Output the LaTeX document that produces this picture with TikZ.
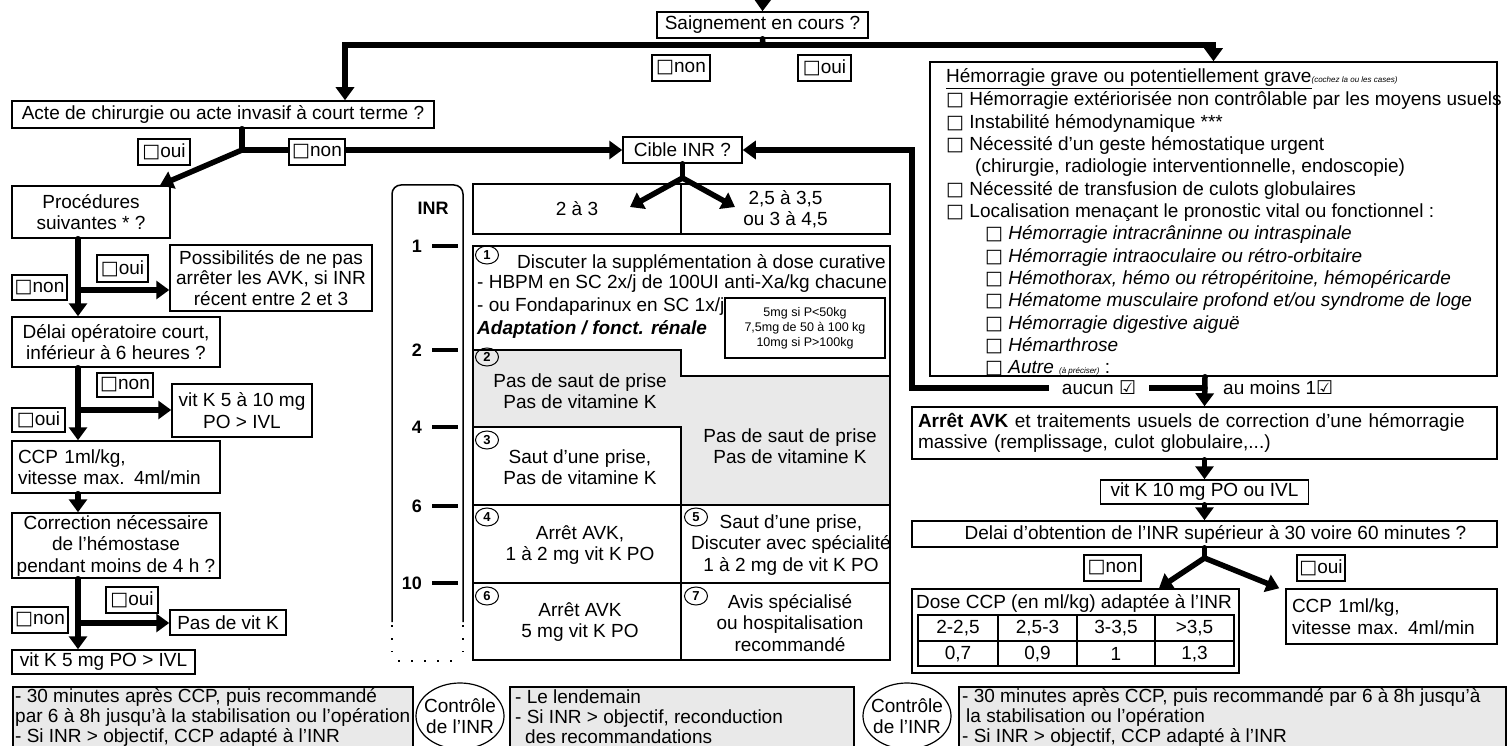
\documentclass[tikz,border=0pt]{standalone}
\usepackage{fontspec}
\setmainfont{Liberation Sans}
\newfontfamily\dejavu{DejaVu Sans}
\usetikzlibrary{arrows.meta,calc,shapes.geometric}
\newcommand{\cbx}{{\dejavu □}}
\begin{document}
\begin{tikzpicture}[x=1pt,y=-1pt,
  font=\fontsize{19}{21.5}\selectfont,
  box/.style={draw,line width=1.5pt,fill=white,inner sep=1.5pt,align=center},
  lbl/.style={draw,line width=1.3pt,fill=white,inner sep=1.5pt},
  gbox/.style={draw,line width=1.5pt,fill=gray!17,anchor=north west,minimum height=64},
  conn/.style={line width=5.5pt,line cap=round},
  arr/.style={line width=5.5pt,line cap=round,-{Triangle[width=18pt,length=13pt]}},
  tline/.style={line width=1.5pt},
  num/.style={draw,ellipse,line width=1pt,inner sep=0pt,minimum width=23,minimum height=18,font=\fontsize{13}{13}\selectfont\bfseries},
  rulertick/.style={line width=4pt},
  boldnum/.style={font=\fontsize{18}{20}\selectfont\bfseries},
  ctext/.style={align=center,inner sep=0pt},
  btext/.style={anchor=west,align=left,inner sep=0pt,font=\fontsize{19}{20}\selectfont}
]
\useasboundingbox (0,0) rectangle (1510,746);
\fill[white] (0,0) rectangle (1510,746);

% ---------- top ----------
\node[box,minimum width=211,minimum height=26] (sai) at (762.5,25) {Saignement en cours ?};
\coordinate (topin) at (763,-14);
\draw[arr] (topin) -- (sai.north);

% ---------- left column boxes ----------
\node[box,minimum width=422,minimum height=27] (acte) at (223,114.5) {Acte de chirurgie ou acte invasif à court terme ?};
\node[box,minimum width=158,minimum height=52] (proc) at (91,212) {Procédures\\suivantes * ?};
\node[box,minimum width=202,minimum height=66,font=\fontsize{19}{20.5}\selectfont] (poss) at (271,278) {Possibilités de ne pas\\arrêter les AVK, si INR\\récent entre 2 et 3};
\node[box,minimum width=208,minimum height=50] (delai) at (116,342) {Délai opératoire court,\\inférieur à 6 heures ?};
\node[box,minimum width=140,minimum height=53] (vk510) at (242,410.5) {vit K 5 à 10 mg\\PO > IVL};
\node[box,minimum width=208,minimum height=52,text width=196,align=left,inner xsep=6pt] (ccp1) at (116,467) {CCP 1ml/kg,\\vitesse max. 4ml/min};
\node[box,minimum width=208,minimum height=65,inner sep=0.5pt] (corr) at (116,545.5) {Correction nécessaire\\de l'hémostase\\pendant moins de 4 h ?};
\node[box,minimum width=116,minimum height=25] (pvk) at (228,622.5) {Pas de vit K};
\node[box,minimum width=183,minimum height=24] (vk5) at (103.5,662) {vit K 5 mg PO > IVL};

% ---------- middle boxes ----------
\node[box,minimum width=119,minimum height=26] (cible) at (682.5,150) {Cible INR ?};
\node[box,minimum width=208,minimum height=50] (hA) at (577,209) {2 à 3};
\node[box,minimum width=209,minimum height=50] (hB) at (785.5,209) {2,5 à 3,5\\ou 3 à 4,5};

% ---------- right boxes ----------
\node[box,minimum width=567,minimum height=314] (hem) at (1213.5,219) {};
\node[box,minimum width=585,minimum height=52,text width=573,align=left,inner xsep=6pt] (arret) at (1204.5,433) {\textbf{Arrêt AVK} et traitements usuels de correction d'une hémorragie\\massive (remplissage, culot globulaire,...)};
\node[box,minimum width=208,minimum height=24] (vk10) at (1204.5,492) {vit K 10 mg PO ou IVL};
\node[box,minimum width=585,minimum height=26] (delai2) at (1204.5,534) {\hspace*{22pt}Delai d'obtention de l'INR supérieur à 30 voire 60 minutes ?};
\node[box,minimum width=327,minimum height=84] (dose) at (1075.5,631) {};
\node[box,minimum width=211,minimum height=55,text width=199,align=left,inner xsep=6pt] (ccp2) at (1391.5,616.5) {CCP 1ml/kg,\\vitesse max. 4ml/min};

% ---------- connectors: top ----------
\coordinate (jS) at (763,45);
\draw[conn] (sai.south) -- (jS);
\draw[arr] (jS) -| ([xshift=122]acte.north);
\draw[arr] (jS) -| (hem.north);

% ---------- connectors: left ----------
\coordinate (jA) at (242,150);
\draw[conn] ([xshift=19]acte.south) -- (jA);
\draw[arr] (jA) -- (cible.west);
\draw[arr] (jA) -- ([xshift=69]proc.north);
\draw[arr] ([xshift=-13]proc.south) -- ([xshift=-38]delai.north);
\coordinate (j2) at (78,290);
\draw[arr] (j2) -- (j2 -| poss.west);
\draw[arr] ([xshift=-38]delai.south) -- ([xshift=-38]ccp1.north);
\coordinate (j3) at (78,410);
\draw[arr] (j3) -- (j3 -| vk510.west);
\draw[arr] ([xshift=-38]ccp1.south) -- ([xshift=-38]corr.north);
\draw[arr] ([xshift=-38]corr.south) -- ([xshift=-25.5]vk5.north);
\coordinate (j4) at (78,623);
\draw[arr] (j4) -- (j4 -| pvk.west);

% ---------- connectors: middle ----------
\coordinate (jC) at (682.5,178);
\coordinate (tL) at (630,207);
\coordinate (tR) at (735,207);
\draw[conn] (cible.south) -- (jC);
\draw[arr] (jC) -- (tL);
\draw[arr] (jC) -- (tR);

% ---------- connectors: right ----------
\coordinate (jH) at (1205,388);
\coordinate (kH) at (912,388);
\draw[arr] ([xshift=-8.5]hem.south) -- (arret.north);
\draw[arr] (jH) -- (kH) |- (cible.east);
\draw[arr] (arret.south) -- (vk10.north);
\draw[arr] (vk10.south) -- (delai2.north);
\coordinate (jD) at (1204.5,558);
\draw[conn] (delai2.south) -- (jD);
\draw[arr] (jD) -- ([xshift=83.5]dose.north);
\draw[arr] (jD) -- ([xshift=-6]ccp2.north west);

% ---------- labels ----------
\node[lbl,minimum width=58,minimum height=26] (n0) at (681,68) {\cbx non};
\node[lbl,minimum width=53,minimum height=26] (o0) at (824.5,68) {\cbx oui};
\node[lbl,minimum width=52,minimum height=26] (o1) at (164,152) {\cbx oui};
\node[lbl,minimum width=56,minimum height=26] (n1) at (317,152) {\cbx non};
\node[lbl,minimum width=51,minimum height=27] (o2) at (122.5,268.5) {\cbx oui};
\node[lbl,minimum width=55,minimum height=25] (n2) at (39.5,287.5) {\cbx non};
\node[lbl,minimum width=56,minimum height=24] (n3) at (125,385) {\cbx non};
\node[lbl,minimum width=53,minimum height=24] (o3) at (38.5,420) {\cbx oui};
\node[lbl,minimum width=52,minimum height=26] (o4) at (132,600) {\cbx oui};
\node[lbl,minimum width=56,minimum height=26] (n4) at (40,620) {\cbx non};
\node[lbl,minimum width=57,minimum height=26] (n5) at (1112.5,568) {\cbx non};
\node[lbl,minimum width=48,minimum height=26] (o5) at (1321,568) {\cbx oui};
\node[fill=white,inner sep=1pt,minimum width=100] (aucun) at (1099,388) {aucun {\dejavu ☑}};
\node[anchor=west,inner sep=1pt] (aumoins) at (1222,388) {au moins 1{\dejavu ☑}};

% ---------- INR ruler ----------
\draw[tline,rounded corners=9pt] (392,622) -- (392,185) -- (463,185) -- (463,622);
\draw[tline,dash pattern=on 2pt off 11pt] (392,625) -- (392,652) (463,625) -- (463,652) (398,661) -- (458,661);
\node[boldnum] (inr) at (433,208) {INR};
\foreach \nm/\yy in {1/246,2/350,4/427,6/506,10/583}{
  \node[anchor=east,boldnum,inner sep=0pt] (t\nm) at (422,\yy) {\nm};
  \draw[rulertick] (432,\yy) -- (458,\yy);
}

% ---------- INR table ----------
\fill[gray!17] (473,350) -- (681,350) -- (681,376) -- (890,376) -- (890,505) -- (681,505) -- (681,427) -- (473,427) -- cycle;
\draw[tline] (473,246) rectangle (890,660);
\draw[tline] (473,350) -- (681,350) -- (681,376) -- (890,376);
\draw[tline] (473,427) -- (681,427) -- (681,660);
\draw[tline] (473,505) -- (890,505);
\draw[tline] (473,583) -- (890,583);

\node[anchor=west,inner sep=0pt] (c1a) at (517,263) {Discuter la supplémentation à dose curative};
\node[anchor=west,inner sep=0pt] (c1b) at (477,284) {- HBPM en SC 2x/j de 100UI anti-Xa/kg chacune};
\node[anchor=west,inner sep=0pt] (c1c) at (477,307) {- ou Fondaparinux en SC 1x/j};
\node[anchor=west,inner sep=0pt,font=\fontsize{19}{21.5}\selectfont\bfseries\itshape] (c1d) at (477,330) {Adaptation / fonct. rénale};
\node[box,minimum width=160,minimum height=60,font=\fontsize{12.5}{15}\selectfont] (mg) at (805,328) {5mg si P<50kg\\7,5mg de 50 à 100 kg\\10mg si P>100kg};

\node[num] (k1) at (487,255) {1};
\node[num] (k2) at (487,357) {2};
\node[num] (k3) at (487,440) {3};
\node[num] (k4) at (487,517) {4};
\node[num] (k5) at (696,517) {5};
\node[num] (k6) at (487,596) {6};
\node[num] (k7) at (696,596) {7};

\node[ctext] (c2) at (580,391) {Pas de saut de prise\\Pas de vitamine K};
\node[ctext] (cg) at (790,446) {Pas de saut de prise\\Pas de vitamine K};
\node[ctext] (c3) at (580,467) {Saut d'une prise,\\Pas de vitamine K};
\node[ctext] (c4) at (580,545) {Arrêt AVK,\\1 à 2 mg vit K PO};
\node[ctext] (c5) at (791,545) {Saut d'une prise,\\Discuter avec spécialité\\1 à 2 mg de vit K PO};
\node[ctext] (c6) at (580,622) {Arrêt AVK\\5 mg vit K PO};
\node[ctext] (c7) at (790,623) {Avis spécialisé\\ou hospitalisation\\recommandé};

% ---------- hemorrhage list ----------
\node[anchor=base west,inner sep=0pt] (h0) at (946,83) {\underline{Hémorragie grave ou potentiellement grave}{\fontsize{8}{8}\selectfont\itshape (cochez la ou les cases)}};
\node[anchor=base west,inner sep=0pt] (h1) at (946,106) {\cbx{} Hémorragie extériorisée non contrôlable par les moyens usuels};
\node[anchor=base west,inner sep=0pt] (h2) at (946,128.3) {\cbx{} Instabilité hémodynamique ***};
\node[anchor=base west,inner sep=0pt] (h3) at (946,150.6) {\cbx{} Nécessité d'un geste hémostatique urgent};
\node[anchor=base west,inner sep=0pt] (h4) at (975,172.9) {(chirurgie, radiologie interventionnelle, endoscopie)};
\node[anchor=base west,inner sep=0pt] (h5) at (946,195.2) {\cbx{} Nécessité de transfusion de culots globulaires};
\node[anchor=base west,inner sep=0pt] (h6) at (946,217.5) {\cbx{} Localisation menaçant le pronostic vital ou fonctionnel :};
\node[anchor=base west,inner sep=0pt] (h7) at (985,239.8) {\cbx{} \textit{Hémorragie intracrâninne ou intraspinale}};
\node[anchor=base west,inner sep=0pt] (h8) at (985,262.1) {\cbx{} \textit{Hémorragie intraoculaire ou rétro-orbitaire}};
\node[anchor=base west,inner sep=0pt] (h9) at (985,284.4) {\cbx{} \textit{Hémothorax, hémo ou rétropéritoine, hémopéricarde}};
\node[anchor=base west,inner sep=0pt] (h10) at (985,306.7) {\cbx{} \textit{Hématome musculaire profond et/ou syndrome de loge}};
\node[anchor=base west,inner sep=0pt] (h11) at (985,329) {\cbx{} \textit{Hémorragie digestive aiguë}};
\node[anchor=base west,inner sep=0pt] (h12) at (985,351.3) {\cbx{} \textit{Hémarthrose}};
\node[anchor=base west,inner sep=0pt] (h13) at (985,373.6) {\cbx{} \textit{Autre} {\fontsize{8}{8}\selectfont\itshape (à préciser)} :};

% ---------- dose table ----------
\node[anchor=west,inner sep=0pt] (doset) at (916,603) {Dose CCP (en ml/kg) adaptée à l'INR};
\draw[line width=2pt] (918,615) rectangle (1234,666);
\draw[tline] (918,641) -- (1234,641) (998,615) -- (998,666) (1077,615) -- (1077,666) (1155,615) -- (1155,666);
\node[ctext] (d1) at (958,628) {2-2,5};
\node[ctext] (d2) at (1037.5,628) {2,5-3};
\node[ctext] (d3) at (1116,628) {3-3,5};
\node[ctext] (d4) at (1194.5,628) {>3,5};
\node[ctext] (e1) at (958,654) {0,7};
\node[ctext] (e2) at (1037.5,654) {0,9};
\node[ctext] (e3) at (1116,654) {1};
\node[ctext] (e4) at (1194.5,654) {1,3};

% ---------- bottom row ----------
\node[gbox,minimum width=400] (b1) at (12,686) {};
\node[btext] (b1t) at (15,717) {- 30 minutes après CCP, puis recommandé\\par 6 à 8h jusqu'à la stabilisation ou l'opération\\- Si INR > objectif, CCP adapté à l'INR};
\node[gbox,minimum width=344] (b2) at (509,686) {};
\node[btext] (b2t) at (515,717) {- Le lendemain\\- Si INR > objectif, reconduction\\\hspace*{10pt}des recommandations};
\node[gbox,minimum width=547] (b3) at (958,686) {};
\node[btext] (b3t) at (962,717) {- 30 minutes après CCP, puis recommandé par 6 à 8h jusqu'à\\\hspace*{4pt}la stabilisation ou l'opération\\- Si INR > objectif, CCP adapté à l'INR};
\node[ctext] (ctl1) at (460,716) {Contrôle\\de l'INR};
\draw[line width=1.2pt] (ctl1.center) ellipse [x radius=44, y radius=33];
\node[ctext] (ctl2) at (907,716) {Contrôle\\de l'INR};
\draw[line width=1.2pt] (ctl2.center) ellipse [x radius=44, y radius=33];
\end{tikzpicture}
\end{document}
